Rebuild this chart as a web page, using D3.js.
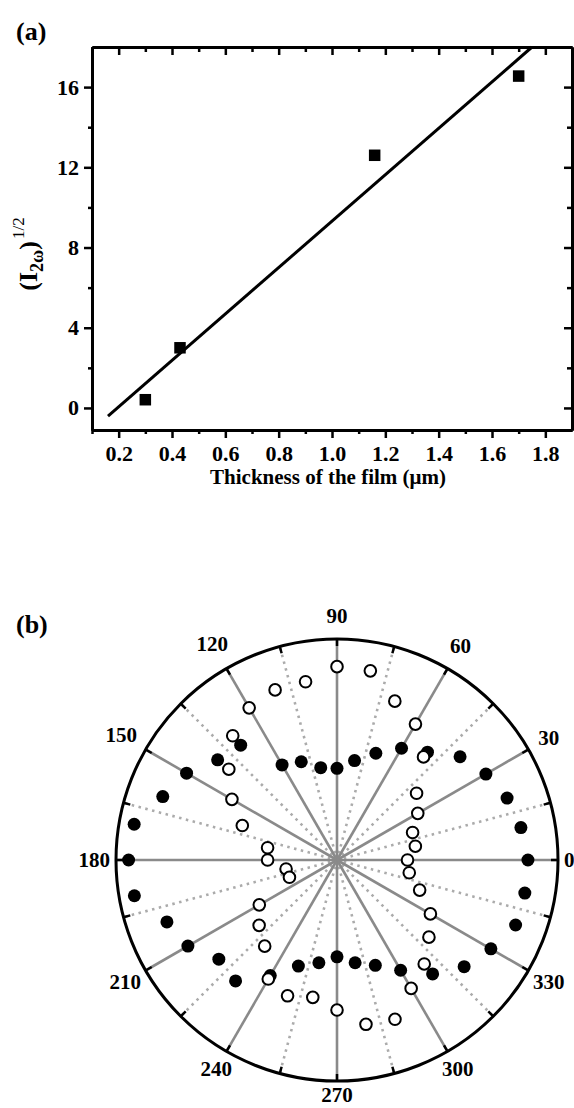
<!DOCTYPE html>
<html><head><meta charset="utf-8">
<script src="https://cdn.jsdelivr.net/npm/d3@7"></script>
<style>
html,body{margin:0;padding:0;background:#fff;}
svg text{font-family:"Liberation Serif","Times New Roman",serif;font-weight:bold;fill:#000;}
</style></head>
<body>
<svg id="c" width="574" height="1108"></svg>
<script>
// ---------- Panel (a) data ----------
const thickness = [0.30, 0.43, 1.16, 1.70];
const sqrtI = [0.41, 3.0, 12.6, 16.55];
const fitX = [0.16, 1.75];
const fitY = [-0.41, 18.0];
const xMajorTicks = [0.2, 0.4, 0.6, 0.8, 1.0, 1.2, 1.4, 1.6, 1.8];
const xMinorTicks = [0.1, 0.3, 0.5, 0.7, 0.9, 1.1, 1.3, 1.5, 1.7];
const yMajorTicks = [0, 4, 8, 12, 16];
const yMinorTicks = [2, 6, 10, 14];

// ---------- Panel (b) data ----------
const angles = d3.range(0, 360, 10);
const filledR = [0.864,0.845,0.819,0.778,0.727,0.637,0.584,0.514,0.457,0.415,
                 0.424,0.473,0.497,0.678,0.705,0.786,0.839,0.932,0.943,0.931,
                 0.819,0.779,0.698,0.714,0.604,0.511,0.472,0.438,0.472,0.507,
                 0.576,0.673,0.751,0.804,0.860,0.863];
const openR = [0.319,0.360,0.364,0.422,0.470,0.609,0.710,0.765,0.869,0.875,
               0.819,0.819,0.795,0.734,0.639,0.549,0.456,0.319,0.314,0.234,
               0.229,0.406,0.460,0.509,0.622,0.654,0.631,0.679,0.755,0.767,
               0.671,0.614,0.543,0.488,0.398,0.332];
const spokeAngles = d3.range(0, 360, 30);
const dottedAngles = d3.range(15, 360, 30);
const angleLabels = spokeAngles.map(String);

const svg = d3.select("#c");

// ================= Panel (a) =================
const A = {left: 92, right: 572, top: 47, bottom: 430};
const x = d3.scaleLinear().domain([0.1, 1.9]).range([A.left, A.right]);
const y = d3.scaleLinear().domain([-1.1, 18]).range([A.bottom, A.top]);
const ga = svg.append("g");

function styleAxis(g) {
  g.selectAll("path.domain").attr("stroke", "#000").attr("stroke-width", 3);
  g.selectAll(".tick line").attr("stroke", "#000").attr("stroke-width", 2.5);
  g.selectAll(".tick text").attr("font-size", 22).attr("font-family", "Liberation Serif").attr("font-weight", "bold");
}
// bottom
const bMaj = ga.append("g").attr("transform", `translate(0,${A.bottom})`)
  .call(d3.axisBottom(x).tickValues(xMajorTicks).tickFormat(d3.format(".1f")).tickSizeInner(8).tickSizeOuter(0).tickPadding(7));
styleAxis(bMaj);
const bMin = ga.append("g").attr("transform", `translate(0,${A.bottom})`)
  .call(d3.axisBottom(x).tickValues(xMinorTicks).tickFormat("").tickSizeInner(4).tickSizeOuter(0));
styleAxis(bMin);
// top (inward)
const tMaj = ga.append("g").attr("transform", `translate(0,${A.top})`)
  .call(d3.axisTop(x).tickValues(xMajorTicks).tickFormat("").tickSizeInner(-8).tickSizeOuter(0));
styleAxis(tMaj);
const tMin = ga.append("g").attr("transform", `translate(0,${A.top})`)
  .call(d3.axisTop(x).tickValues(xMinorTicks).tickFormat("").tickSizeInner(-5).tickSizeOuter(0));
styleAxis(tMin);
// left
const lMaj = ga.append("g").attr("transform", `translate(${A.left},0)`)
  .call(d3.axisLeft(y).tickValues(yMajorTicks).tickFormat(d3.format("d")).tickSizeInner(8).tickSizeOuter(0).tickPadding(5));
styleAxis(lMaj);
const lMin = ga.append("g").attr("transform", `translate(${A.left},0)`)
  .call(d3.axisLeft(y).tickValues(yMinorTicks).tickFormat("").tickSizeInner(4).tickSizeOuter(0));
styleAxis(lMin);
// right (inward)
const rMaj = ga.append("g").attr("transform", `translate(${A.right},0)`)
  .call(d3.axisRight(y).tickValues(yMajorTicks).tickFormat("").tickSizeInner(-8).tickSizeOuter(0));
styleAxis(rMaj);
const rMin = ga.append("g").attr("transform", `translate(${A.right},0)`)
  .call(d3.axisRight(y).tickValues(yMinorTicks).tickFormat("").tickSizeInner(-5).tickSizeOuter(0));
styleAxis(rMin);

// fit line
ga.append("path")
  .datum(fitX.map((d, i) => [d, fitY[i]]))
  .attr("d", d3.line().x(d => x(d[0])).y(d => y(d[1])))
  .attr("fill", "none").attr("stroke", "#000").attr("stroke-width", 3);

// squares
const sq = 11.5;
ga.selectAll("rect.pt").data(thickness).enter().append("rect")
  .attr("class", "pt")
  .attr("x", d => x(d) - sq / 2)
  .attr("y", (d, i) => y(sqrtI[i]) - sq / 2)
  .attr("width", sq).attr("height", sq).attr("fill", "#000");

// titles
ga.append("text").attr("x", (A.left + A.right) / 2 - 4).attr("y", 484)
  .attr("text-anchor", "middle").attr("font-size", 21)
  .text("Thickness of the film (\u03bcm)");

const yt = ga.append("text").attr("transform", "translate(37,254) rotate(-90)")
  .attr("text-anchor", "middle").attr("font-size", 26);
yt.append("tspan").text("(I");
yt.append("tspan").attr("dy", 6).attr("font-size", 18).text("2\u03c9");
yt.append("tspan").attr("dy", -6).text(")");
yt.append("tspan").attr("dy", -13).attr("dx", 2).attr("font-size", 17).attr("font-weight", "normal").text("1/2");

svg.append("text").attr("x", 16).attr("y", 40).attr("font-size", 26).text("(a)");
svg.append("text").attr("x", 16).attr("y", 633).attr("font-size", 26).text("(b)");

// ================= Panel (b) =================
const cx = 337, cy = 860, R = 221;
const rScale = d3.scaleLinear().domain([0, 1]).range([0, R]);
const rad = d => d * Math.PI / 180;
const px = (a, r) => cx + r * Math.cos(rad(a));
const py = (a, r) => cy - r * Math.sin(rad(a));
const gb = svg.append("g");

gb.selectAll("line.dot").data(dottedAngles).enter().append("line")
  .attr("x1", cx).attr("y1", cy)
  .attr("x2", d => px(d, rScale(1))).attr("y2", d => py(d, rScale(1)))
  .attr("stroke", "#ababab").attr("stroke-width", 2.6).attr("stroke-dasharray", "2.5,4.5");
gb.selectAll("line.spoke").data(spokeAngles).enter().append("line")
  .attr("x1", cx).attr("y1", cy)
  .attr("x2", d => px(d, rScale(1))).attr("y2", d => py(d, rScale(1)))
  .attr("stroke", "#8a8a8a").attr("stroke-width", 2.6);
// ticks on the circle
gb.selectAll("line.tick").data(spokeAngles.concat(dottedAngles)).enter().append("line")
  .attr("x1", d => px(d, rScale(1))).attr("y1", d => py(d, rScale(1)))
  .attr("x2", d => px(d, rScale(1) - 7)).attr("y2", d => py(d, rScale(1) - 7))
  .attr("stroke", "#000").attr("stroke-width", 2.5);
gb.append("circle").attr("cx", cx).attr("cy", cy).attr("r", rScale(1))
  .attr("fill", "none").attr("stroke", "#000").attr("stroke-width", 3);

gb.selectAll("circle.filled").data(angles).enter().append("circle")
  .attr("cx", (d, i) => px(d, rScale(filledR[i])))
  .attr("cy", (d, i) => py(d, rScale(filledR[i])))
  .attr("r", 6.5).attr("fill", "#000");
gb.selectAll("circle.open").data(angles).enter().append("circle")
  .attr("cx", (d, i) => px(d, rScale(openR[i])))
  .attr("cy", (d, i) => py(d, rScale(openR[i])))
  .attr("r", 5.8).attr("fill", "#fff").attr("stroke", "#000").attr("stroke-width", 2);

// angle labels
const fs = 21;
gb.selectAll("text.al").data(spokeAngles).enter().append("text")
  .attr("font-size", fs).attr("text-anchor", "middle")
  .each(function(d, i) {
    const t = angleLabels[i];
    const w = t.length * fs * 0.5, h = fs * 0.66;
    const sn = Math.sin(rad(d));
    const c = Math.abs(Math.cos(rad(d))), s = Math.abs(sn);
    const rr = rScale(1) + 6 + c * w / 2 + s * (h / 2) + (sn > 0 ? s * 10 : s * 1);
    d3.select(this).attr("x", px(d, rr)).attr("y", py(d, rr) + h / 2).text(t);
  });
</script>
</body></html>
